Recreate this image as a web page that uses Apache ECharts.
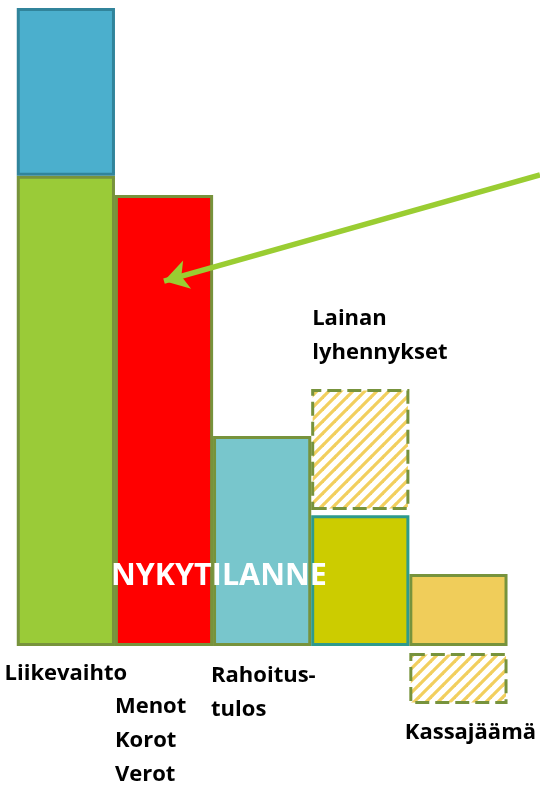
<!DOCTYPE html>
<html>
<head>
<meta charset="utf-8">
<script src="https://cdn.jsdelivr.net/npm/echarts@6/dist/echarts.min.js"></script>
<style>html,body{margin:0;padding:0;background:#fff}#c{width:540px;height:786px}</style>
</head>
<body>
<div id="c"></div>
<script>
// ---- data ----
var categories = ['Liikevaihto', 'Menot', 'Rahoitustulos', 'Lainan', 'Kassajäämä'];
var solidValues = [73.7, 70.7, 32.9, 20.5, 11.3];
var topValues = [26.3, '-', '-', '-', '-'];
var hatchBase = ['-', '-', '-', 21.3, -1.1];
var hatchValues = ['-', '-', '-', 19.0, -8.0];
var arrowTarget = ['Menot', 57.2];
var labelTexts = ['Liikevaihto', 'Menot\nKorot\nVerot', 'Rahoitus-\ntulos', 'Lainan\nlyhennykset', 'Kassajäämä'];
var overlayTitle = 'NYKYTILANNE';

// ---- styles ----
var FONT = 'Open Sans';
var solidColors = ['#9acb38', '#ff0000', '#78c6cc', '#cccc00', '#f0cd5a'];
var solidBorders = ['#77933c', '#77933c', '#77933c', '#2e9a8c', '#77933c'];

function stripePattern() {
  var s = 12, cv = document.createElement('canvas');
  cv.width = s; cv.height = s;
  var ctx = cv.getContext('2d');
  ctx.fillStyle = '#ffffff'; ctx.fillRect(0, 0, s, s);
  ctx.strokeStyle = '#f2cf5e'; ctx.lineWidth = 3.2;
  for (var o = -s; o <= s; o += s) {
    ctx.beginPath(); ctx.moveTo(o - 1, s + 1); ctx.lineTo(o + s + 1, -1); ctx.stroke();
  }
  return cv;
}
var pattern = { image: stripePattern(), repeat: 'repeat' };

var labelBase = { fontFamily: FONT, fontWeight: 'bold', fontSize: 22, color: '#000', lineHeight: 34 };

var solidData = solidValues.map(function (v, i) {
  return { value: v, itemStyle: { color: solidColors[i], borderColor: solidBorders[i] } };
});
solidData[0].label = Object.assign({ show: true, position: ['50%', '100%'], align: 'center', verticalAlign: 'top', offset: [0, 11], formatter: labelTexts[0] }, labelBase);
solidData[1].label = Object.assign({ show: true, position: ['0%', '100%'], align: 'left', verticalAlign: 'top', offset: [0, 44], formatter: labelTexts[1] }, labelBase);
solidData[2].label = Object.assign({ show: true, position: ['0%', '100%'], align: 'left', verticalAlign: 'top', offset: [-2, 12.5], formatter: labelTexts[2] }, labelBase);

var hatchData = hatchValues.map(function (v) { return { value: v }; });
hatchData[3].label = Object.assign({ show: true, position: ['0%', '0%'], align: 'left', verticalAlign: 'bottom', offset: [1, -19], formatter: labelTexts[3] }, labelBase);
hatchData[4].label = Object.assign({ show: true, position: ['50%', '100%'], align: 'center', verticalAlign: 'top', offset: [12, 12], formatter: labelTexts[4] }, labelBase);

var BW = 98.2;
var chart = echarts.init(document.getElementById('c'), null, { renderer: 'canvas' });
chart.setOption({
  animation: false,
  grid: { left: 16.8, right: 32.5, top: 8, bottom: 76.2 },
  xAxis: { type: 'category', data: categories, show: false },
  yAxis: { type: 'value', min: -10, max: 100, show: false },
  series: [
    {
      name: 'main', type: 'bar', stack: 's', barWidth: BW, barGap: '-100%',
      itemStyle: { borderWidth: 3 },
      data: solidData,
      emphasis: { disabled: true },
      markLine: {
        silent: true, symbol: ['none', 'arrow'], symbolSize: [22, 24],
        lineStyle: { color: '#9acd32', width: 5.5, type: 'solid' },
        label: { show: false },
        data: [[{ x: 540, y: 175 }, { coord: arrowTarget }]]
      }
    },
    {
      name: 'top', type: 'bar', stack: 's', barWidth: BW, barGap: '-100%',
      itemStyle: { color: '#4bafcd', borderColor: '#31849b', borderWidth: 3 },
      data: topValues, emphasis: { disabled: true }
    },
    {
      name: 'hbase', type: 'bar', stack: 'h', barWidth: BW, barGap: '-100%',
      itemStyle: { color: 'transparent' },
      data: hatchBase, emphasis: { disabled: true }, silent: true
    },
    {
      name: 'hatch', type: 'bar', stack: 'h', barWidth: BW, barGap: '-100%',
      itemStyle: { color: pattern, borderColor: '#77933c', borderWidth: 3, borderType: [14, 6] },
      data: hatchData, emphasis: { disabled: true }
    }
  ],
  graphic: [{
    type: 'text', left: 111, top: 561, z: 100,
    style: { text: overlayTitle, fill: '#ffffff', font: 'bold 30.5px "Open Sans"' }
  }]
});
</script>
</body>
</html>
